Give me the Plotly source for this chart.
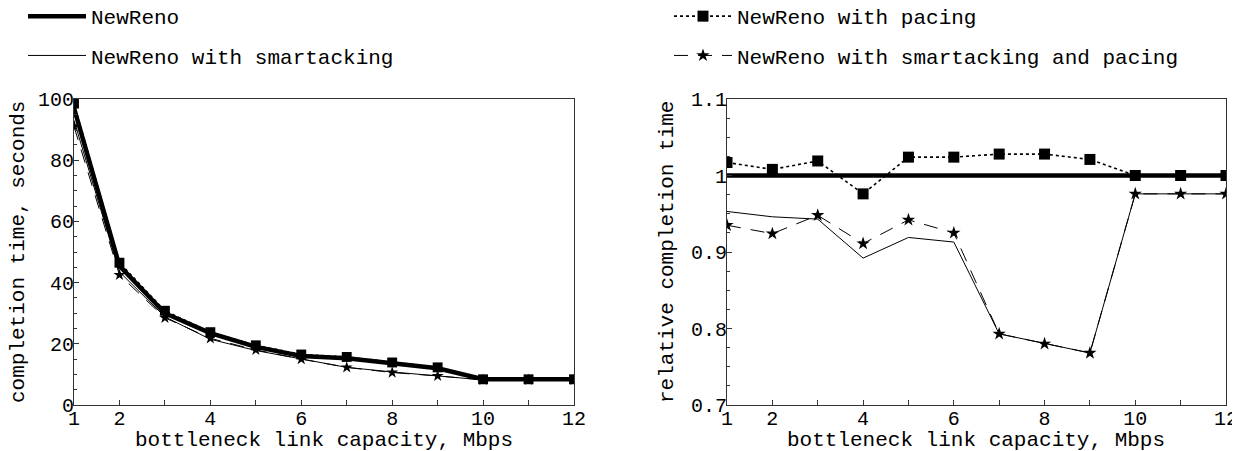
import plotly.graph_objects as go

# ---- data ----
capacity = [1, 2, 3, 4, 5, 6, 7, 8, 9, 10, 11, 12]

# left panel: completion time, seconds
newreno_abs = [97.0, 45.5, 30.0, 23.5, 19.0, 16.0, 15.3, 13.6, 12.0, 8.4, 8.4, 8.4]
pacing_abs = [98.5, 46.5, 30.8, 23.8, 19.5, 16.5, 15.7, 13.9, 12.3, 8.4, 8.4, 8.4]
smart_abs = [93.0, 43.5, 28.8, 21.5, 17.8, 15.0, 12.3, 10.8, 9.5, 8.2, 8.2, 8.2]
smart_pacing_abs = [91.0, 42.5, 28.5, 21.8, 18.0, 15.0, 12.3, 10.6, 9.5, 8.2, 8.2, 8.2]

# right panel: relative completion time
newreno_rel = [1.0] * 12
pacing_rel = [1.017, 1.008, 1.019, 0.976, 1.024, 1.024, 1.028, 1.028, 1.021, 1.0, 1.0, 1.0]
smart_rel = [0.953, 0.946, 0.943, 0.892, 0.919, 0.913, 0.793, 0.780, 0.768, 0.976, 0.976, 0.976]
smart_pacing_rel = [0.935, 0.924, 0.948, 0.911, 0.942, 0.925, 0.793, 0.780, 0.768, 0.976, 0.976, 0.976]

x_tickvals = [1, 2, 4, 6, 8, 10, 12]
left_yticks = [0, 20, 40, 60, 80, 100]
right_yticks = [0.7, 0.8, 0.9, 1.0, 1.1]
right_yticktext = ["0.7", "0.8", "0.9", "1", "1.1"]

names = ["NewReno", "NewReno with smartacking", "NewReno with pacing",
         "NewReno with smartacking and pacing"]

FONT = "Liberation Mono, Courier New, monospace"
OFF = 8                      # page body margin of the html page
W, H = 1240 - OFF, 451 - OFF


def px(x):
    """page x pixel -> paper fraction"""
    return (x - OFF) / W


def py(y):
    """page y pixel -> paper fraction"""
    return (H - (y - OFF)) / H


fig = go.Figure()

styles = {
    "nr": dict(mode="lines", line=dict(color="black", width=4.5)),
    "sm": dict(mode="lines", line=dict(color="black", width=1)),
    "pa": dict(mode="lines+markers", line=dict(color="black", width=1.6, dash="dot"),
               marker=dict(symbol="square", size=11, color="black")),
    "sp": dict(mode="lines+markers", line=dict(color="black", width=1, dash="14px,10px"),
               marker=dict(symbol="star", size=10, color="black")),
}


def add_panel(xa, ya, nr, sm, sp, pa, show, msize_scale=1.0):
    for key, ys, name, leg, rank in [("nr", nr, names[0], "legend", 1),
                                     ("sm", sm, names[1], "legend", 2),
                                     ("sp", sp, names[3], "legend2", 4),
                                     ("pa", pa, names[2], "legend2", 3)]:
        st = dict(styles[key])
        if "marker" in st:
            m = dict(st["marker"])
            m["size"] = m["size"] * msize_scale
            st["marker"] = m
        fig.add_trace(go.Scatter(x=capacity, y=ys, name=name, xaxis=xa, yaxis=ya,
                                 showlegend=show, legend=leg, legendgroup=key,
                                 legendrank=rank, **st))


add_panel("x", "y", newreno_abs, smart_abs, smart_pacing_abs, pacing_abs, False, 0.9)
add_panel("x2", "y2", newreno_rel, smart_rel, smart_pacing_rel, pacing_rel, True)

axis_common = dict(showline=True, linecolor="#333", linewidth=1, mirror=True,
                   ticks="inside", ticklen=5, tickcolor="#333", showgrid=False,
                   zeroline=False, automargin=False,
                   tickfont=dict(family=FONT, size=20, color="black"))

legend_common = dict(yanchor="top", xanchor="left", orientation="v",
                     font=dict(family=FONT, size=21), bgcolor="rgba(0,0,0,0)",
                     itemwidth=58, traceorder="grouped", tracegroupgap=9)

ann_font = dict(family=FONT, size=21, color="black")

fig.update_layout(
    template="none",
    width=W, height=H,
    margin=dict(l=0, r=0, t=0, b=0, autoexpand=False),
    paper_bgcolor="white", plot_bgcolor="white",
    font=dict(family=FONT, size=21, color="black"),
    xaxis=dict(domain=[px(74), px(574)], range=[1, 12], tickvals=x_tickvals,
               minor=dict(dtick=1, tick0=1, ticks="inside", ticklen=5, tickcolor="#333"),
               anchor="y", ticklabelstandoff=-5, **axis_common),
    yaxis=dict(domain=[py(405), py(99)], range=[0, 100], tickvals=left_yticks,
               minor=dict(dtick=5, tick0=0, ticks="inside", ticklen=3, tickcolor="#333"),
               anchor="x", ticklabelstandoff=-5, **axis_common),
    xaxis2=dict(domain=[px(727), px(1226)], range=[1, 12], tickvals=x_tickvals,
                minor=dict(dtick=1, tick0=1, ticks="inside", ticklen=5, tickcolor="#333"),
                anchor="y2", ticklabelstandoff=-5, **axis_common),
    yaxis2=dict(domain=[py(405), py(99)], range=[0.7, 1.1], tickvals=right_yticks,
                ticktext=right_yticktext,
                minor=dict(dtick=0.025, tick0=0.7, ticks="inside", ticklen=3, tickcolor="#333"),
                anchor="x2", ticklabelstandoff=-5, **axis_common),
    legend=dict(x=px(23), y=py(-4), **legend_common),
    legend2=dict(x=px(669), y=py(-4), **legend_common),
    annotations=[
        dict(text="bottleneck link capacity, Mbps", x=px(324), y=py(440.5),
             xref="paper", yref="paper", showarrow=False, xanchor="center", yanchor="middle",
             font=ann_font),
        dict(text="bottleneck link capacity, Mbps", x=px(976), y=py(440.5),
             xref="paper", yref="paper", showarrow=False, xanchor="center", yanchor="middle",
             font=ann_font),
        dict(text="completion time, seconds", x=px(18), y=py(252), textangle=-90,
             xref="paper", yref="paper", showarrow=False, xanchor="center", yanchor="middle",
             font=ann_font),
        dict(text="relative completion time", x=px(667), y=py(252), textangle=-90,
             xref="paper", yref="paper", showarrow=False, xanchor="center", yanchor="middle",
             font=ann_font),
    ],
)

fig.write_html("out.html")
